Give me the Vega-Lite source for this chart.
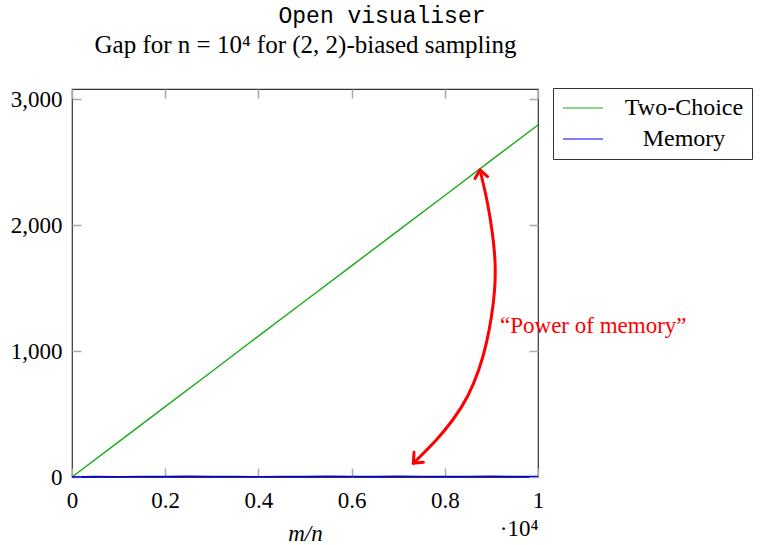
{
  "$schema": "https://vega.github.io/schema/vega-lite/v6.json",
  "width": 466,
  "height": 388,
  "autosize": {"type": "none"},
  "padding": {"left": 72, "top": 89, "right": 222, "bottom": 68},
  "background": "white",
  "config": {"view": {"stroke": "#333", "strokeWidth": 1.2}},
  "title": {
    "text": "Open visualiser",
    "anchor": "middle",
    "frame": "group",
    "font": "Liberation Mono",
    "fontSize": 23,
    "fontWeight": "normal",
    "color": "black",
    "offset": 4,
    "dx": 77
  },
  "datasets": {
    "series": [
      {"algorithm": "Two-Choice", "m_over_n": 0, "gap": 0},
      {"algorithm": "Two-Choice", "m_over_n": 1000, "gap": 279},
      {"algorithm": "Two-Choice", "m_over_n": 2000, "gap": 559},
      {"algorithm": "Two-Choice", "m_over_n": 3000, "gap": 838},
      {"algorithm": "Two-Choice", "m_over_n": 4000, "gap": 1118},
      {"algorithm": "Two-Choice", "m_over_n": 5000, "gap": 1397},
      {"algorithm": "Two-Choice", "m_over_n": 6000, "gap": 1676},
      {"algorithm": "Two-Choice", "m_over_n": 7000, "gap": 1956},
      {"algorithm": "Two-Choice", "m_over_n": 8000, "gap": 2235},
      {"algorithm": "Two-Choice", "m_over_n": 9000, "gap": 2515},
      {"algorithm": "Two-Choice", "m_over_n": 10000, "gap": 2794},
      {"algorithm": "Memory", "m_over_n": 0, "gap": 0},
      {"algorithm": "Memory", "m_over_n": 500, "gap": 4},
      {"algorithm": "Memory", "m_over_n": 1000, "gap": 3},
      {"algorithm": "Memory", "m_over_n": 1500, "gap": 5},
      {"algorithm": "Memory", "m_over_n": 2000, "gap": 4},
      {"algorithm": "Memory", "m_over_n": 2500, "gap": 6},
      {"algorithm": "Memory", "m_over_n": 3000, "gap": 4},
      {"algorithm": "Memory", "m_over_n": 3500, "gap": 5},
      {"algorithm": "Memory", "m_over_n": 4000, "gap": 3},
      {"algorithm": "Memory", "m_over_n": 4500, "gap": 5},
      {"algorithm": "Memory", "m_over_n": 5000, "gap": 4},
      {"algorithm": "Memory", "m_over_n": 5500, "gap": 6},
      {"algorithm": "Memory", "m_over_n": 6000, "gap": 5},
      {"algorithm": "Memory", "m_over_n": 6500, "gap": 4},
      {"algorithm": "Memory", "m_over_n": 7000, "gap": 6},
      {"algorithm": "Memory", "m_over_n": 7500, "gap": 5},
      {"algorithm": "Memory", "m_over_n": 8000, "gap": 4},
      {"algorithm": "Memory", "m_over_n": 8500, "gap": 5},
      {"algorithm": "Memory", "m_over_n": 9000, "gap": 6},
      {"algorithm": "Memory", "m_over_n": 9500, "gap": 4},
      {"algorithm": "Memory", "m_over_n": 10000, "gap": 5}
    ],
    "arrow": [
      {"step": 1, "x": 8755, "y": 2437},
      {"step": 2, "x": 8912, "y": 2199},
      {"step": 3, "x": 9028, "y": 1935},
      {"step": 4, "x": 9092, "y": 1696},
      {"step": 5, "x": 9077, "y": 1484},
      {"step": 6, "x": 9006, "y": 1273},
      {"step": 7, "x": 8899, "y": 1061},
      {"step": 8, "x": 8740, "y": 849},
      {"step": 9, "x": 8504, "y": 637},
      {"step": 10, "x": 8182, "y": 452},
      {"step": 11, "x": 7826, "y": 294},
      {"step": 12, "x": 7468, "y": 161},
      {"step": 13, "x": 7324, "y": 109}
    ],
    "heads": [
      {"head": "top", "step": 1, "x": 8648, "y": 2369},
      {"head": "top", "step": 2, "x": 8755, "y": 2437},
      {"head": "top", "step": 3, "x": 8918, "y": 2385},
      {"head": "bottom", "step": 1, "x": 7540, "y": 117},
      {"head": "bottom", "step": 2, "x": 7324, "y": 109},
      {"head": "bottom", "step": 3, "x": 7340, "y": 196}
    ],
    "note": [
      {"x": 9185, "y": 1140, "label": "“Power of memory”"}
    ]
  },
  "layer": [
    {
      "data": {"name": "series"},
      "mark": {"type": "line", "strokeWidth": 1.4},
      "encoding": {
        "x": {
          "field": "m_over_n", "type": "quantitative",
          "scale": {"domain": [0, 10000], "nice": false},
          "axis": {
            "orient": "bottom",
            "values": [0, 2000, 4000, 6000, 8000, 10000],
            "labelExpr": "format(datum.value / 10000, '.1~f')",
            "title": "m/n",
            "titleFont": "Liberation Serif",
            "titleFontStyle": "italic",
            "titleFontWeight": "normal",
            "titleFontSize": 23,
            "titleColor": "black",
            "titlePadding": 10,
            "labelFont": "Liberation Serif",
            "labelFontSize": 23,
            "labelColor": "black",
            "labelPadding": 21,
            "labelFlush": false,
            "labelOverlap": false,
            "tickSize": -9,
            "tickColor": "#aaa",
            "tickWidth": 1.5,
            "domain": false,
            "grid": false
          }
        },
        "y": {
          "field": "gap", "type": "quantitative",
          "scale": {"domain": [0, 3080], "nice": false},
          "axis": {
            "orient": "left",
            "values": [0, 1000, 2000, 3000],
            "format": ",.0f",
            "title": null,
            "labelFont": "Liberation Serif",
            "labelFontSize": 23,
            "labelColor": "black",
            "labelPadding": 19,
            "labelFlush": false,
            "labelOverlap": false,
            "tickSize": -9,
            "tickColor": "#aaa",
            "tickWidth": 1.5,
            "domain": false,
            "grid": false
          }
        },
        "color": {
          "field": "algorithm", "type": "nominal",
          "scale": {"domain": ["Two-Choice", "Memory"], "range": ["#1aaa1a", "#0000ff"]},
          "legend": {
            "orient": "none",
            "legendX": 481,
            "legendY": -1,
            "direction": "vertical",
            "title": null,
            "strokeColor": "#333",
            "fillColor": "white",
            "padding": 8,
            "symbolType": "M-1,0H3",
            "symbolSize": 400,
            "symbolStrokeWidth": 1.2,
            "labelFont": "Liberation Serif",
            "labelFontSize": 24,
            "labelColor": "black",
            "labelAlign": "center",
            "labelOffset": 99,
            "labelLimit": 300,
            "rowPadding": 7
          }
        },
        "order": {"field": "m_over_n"}
      }
    },
    {
      "data": {"name": "arrow"},
      "mark": {"type": "line", "color": "red", "strokeWidth": 3, "interpolate": "basis", "strokeCap": "round"},
      "encoding": {
        "x": {
          "field": "x", "type": "quantitative",
          "scale": {"domain": [0, 10000], "nice": false},
          "axis": {
            "orient": "top",
            "values": [0, 2000, 4000, 6000, 8000, 10000],
            "labels": false,
            "title": "Gap for n = 10⁴ for (2, 2)-biased sampling",
            "titleFont": "Liberation Serif",
            "titleFontWeight": "normal",
            "titleFontSize": 25,
            "titleColor": "black",
            "titlePadding": 31,
            "tickSize": -9,
            "tickColor": "#aaa",
            "tickWidth": 1.5,
            "domain": false,
            "grid": false
          }
        },
        "y": {
          "field": "y", "type": "quantitative",
          "scale": {"domain": [0, 3080], "nice": false},
          "axis": {
            "orient": "right",
            "values": [0, 1000, 2000, 3000],
            "labels": false,
            "title": null,
            "tickSize": -9,
            "tickColor": "#aaa",
            "tickWidth": 1.5,
            "domain": false,
            "grid": false
          }
        },
        "order": {"field": "step"}
      }
    },
    {
      "data": {"name": "heads"},
      "mark": {"type": "line", "color": "red", "strokeWidth": 3, "strokeCap": "round", "strokeJoin": "round"},
      "encoding": {
        "x": {
          "field": "x", "type": "quantitative",
          "scale": {"domain": [0, 10000], "nice": false},
          "axis": {
            "orient": "bottom",
            "ticks": false,
            "labels": false,
            "domain": false,
            "grid": false,
            "title": "·10⁴",
            "titleAnchor": "end",
            "titleFont": "Liberation Serif",
            "titleFontWeight": "normal",
            "titleFontSize": 23,
            "titleColor": "black",
            "titlePadding": 40
          }
        },
        "y": {
          "field": "y", "type": "quantitative",
          "scale": {"domain": [0, 3080], "nice": false},
          "axis": null
        },
        "detail": {"field": "head"},
        "order": {"field": "step"}
      }
    },
    {
      "data": {"name": "note"},
      "mark": {"type": "text", "color": "red", "font": "Liberation Serif", "fontSize": 23, "align": "left", "baseline": "alphabetic"},
      "encoding": {
        "x": {"field": "x", "type": "quantitative", "scale": {"domain": [0, 10000], "nice": false}, "axis": null},
        "y": {"field": "y", "type": "quantitative", "scale": {"domain": [0, 3080], "nice": false}, "axis": null},
        "text": {"field": "label"}
      }
    }
  ],
  "resolve": {"axis": {"x": "independent", "y": "independent"}}
}
